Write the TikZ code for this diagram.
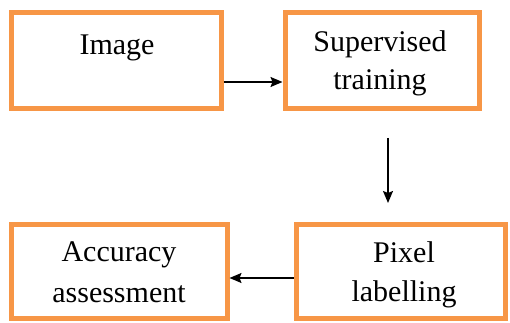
\documentclass[tikz,border=0pt]{standalone}
\usepackage{fontspec}
\setmainfont{Liberation Serif}
\usetikzlibrary{arrows.meta}
\definecolor{boxorange}{RGB}{247,150,70}
\begin{document}
\begin{tikzpicture}[x=1pt,y=1pt,
  box/.style={draw=boxorange,line width=5pt,fill=white,rectangle,inner sep=0pt},
  lbl/.style={anchor=base,inner sep=0pt,font=\fontsize{30}{36}\selectfont},
  conn/.style={draw=black,line width=1.5pt,-{Stealth[length=12pt,width=10pt,inset=2pt]}}]
\useasboundingbox (0,0) rectangle (510,323);
\node[box,minimum width=210pt,minimum height=96pt] (img) at (116,262) {};
\node[box,minimum width=194pt,minimum height=96pt] (sup) at (382,262) {};
\node[box,minimum width=216pt,minimum height=94pt] (acc) at (119,51) {};
\node[box,minimum width=209pt,minimum height=94pt] (pix) at (400.5,51) {};
\node[lbl] (imgT) at (117,268) {Image};
\node[lbl] (supT1) at (380,271) {Supervised};
\node[lbl] (supT2) at (380,233) {training};
\node[lbl] (accT1) at (119,61) {Accuracy};
\node[lbl] (accT2) at (119,20) {assessment};
\node[lbl] (pixT1) at (404,60) {Pixel};
\node[lbl] (pixT2) at (404,21) {labelling};
\coordinate (a1) at (388,185);
\coordinate (a2) at (388,120);
\draw[conn] ([yshift=-21pt]img.east) -- ([yshift=-21pt]sup.west);
\draw[conn] (a1) -- (a2);
\draw[conn] ([yshift=-6pt]pix.west) -- ([yshift=-6pt]acc.east);
\end{tikzpicture}
\end{document}
